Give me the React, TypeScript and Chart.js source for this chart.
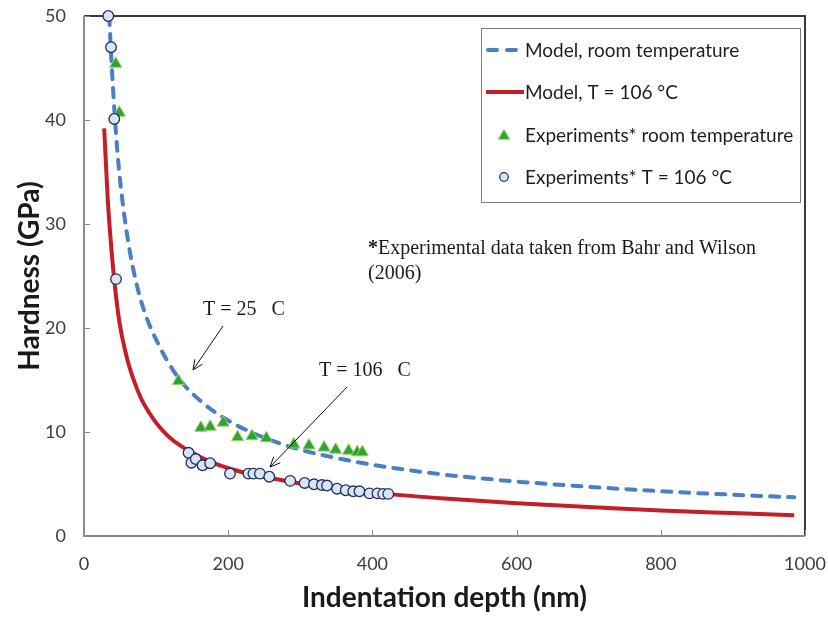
import React, { useEffect, useRef } from 'react';
import { Chart, registerables } from 'chart.js';

Chart.register(...registerables);

// ---- data ----
const modelRoomDepth = [35, 38, 42.5, 47, 53, 64, 80, 105, 131, 163, 200, 250, 300, 350, 400, 500, 600, 700, 800, 900, 985];
const modelRoomHard = [50, 45.8, 40.6, 36.4, 32.4, 27.2, 22.4, 18.2, 15.2, 12.9, 11.1, 9.45, 8.3, 7.5, 6.85, 5.9, 5.24, 4.73, 4.3, 3.97, 3.72];

const model106Depth = [28, 33, 40, 45, 50, 60, 70, 80, 90, 100, 120, 150, 180, 216, 260, 300, 350, 420, 500, 600, 700, 800, 900, 985];
const model106Hard = [39.2, 32.3, 26, 22.7, 20.2, 17.0, 14.8, 13.1, 11.9, 10.9, 9.4, 8.0, 7.0, 6.2, 5.55, 5.05, 4.6, 4.05, 3.6, 3.15, 2.8, 2.45, 2.2, 2.0];

const expRoomDepth = [44, 49, 131, 162, 175, 193, 213, 233, 253, 291, 312, 333, 349, 367, 379, 386];
const expRoomHard = [45.4, 40.7, 14.9, 10.4, 10.5, 10.9, 9.5, 9.6, 9.4, 8.8, 8.7, 8.5, 8.3, 8.2, 8.05, 8.05];

const exp106Depth = [33.7, 37.5, 42, 44.4, 145, 149, 155, 164.5, 175, 202.5, 228, 235, 244, 257, 286, 306, 319, 330, 337, 351, 363, 373.5, 382, 396, 407, 415, 422];
const exp106Hard = [50, 47, 40.1, 24.7, 8.0, 7.05, 7.4, 6.8, 7.0, 6.0, 6.0, 6.0, 6.0, 5.7, 5.3, 5.1, 4.97, 4.9, 4.85, 4.55, 4.4, 4.3, 4.3, 4.1, 4.1, 4.05, 4.05];

const xTicks = [0, 200, 400, 600, 800, 1000];
const yTicks = [0, 10, 20, 30, 40, 50];

const seriesNames = [
  'Model, room temperature',
  'Model, T = 106 °C',
  'Experiments* room temperature',
  'Experiments* T = 106 °C',
];
const xTitle = 'Indentation depth (nm)';
const yTitle = 'Hardness (GPa)';
const noteLine1Star = '*';
const noteLine1 = 'Experimental data taken from Bahr and Wilson';
const noteLine2 = '(2006)';
const label25 = 'T = 25   C';
const label106 = 'T = 106   C';

const BLUE = '#4a7fc1';
const RED = '#c41e2a';
const GREEN = '#2ea33a';
const GREEN_EDGE = '#9fcf5a';
const CIRCLE_FILL = '#dbe5f1';
const CIRCLE_EDGE = '#1f2f63';

const pts = (xs: number[], ys: number[]) => xs.map((x, i) => ({ x, y: ys[i] }));

function drawArrow(ctx: CanvasRenderingContext2D, x1: number, y1: number, x2: number, y2: number) {
  ctx.save();
  ctx.strokeStyle = '#111';
  ctx.lineWidth = 1;
  ctx.setLineDash([]);
  ctx.beginPath();
  ctx.moveTo(x1, y1);
  ctx.lineTo(x2, y2);
  const a = Math.atan2(y2 - y1, x2 - x1);
  const L = 11;
  const s = 0.42;
  ctx.moveTo(x2 - L * Math.cos(a - s), y2 - L * Math.sin(a - s));
  ctx.lineTo(x2, y2);
  ctx.lineTo(x2 - L * Math.cos(a + s), y2 - L * Math.sin(a + s));
  ctx.stroke();
  ctx.restore();
}

function triangle(ctx: CanvasRenderingContext2D, x: number, y: number, r: number) {
  ctx.beginPath();
  for (let k = 0; k < 3; k++) {
    const ang = k * (2 * Math.PI / 3);
    const px = x + Math.sin(ang) * r;
    const py = y - Math.cos(ang) * r;
    if (k === 0) ctx.moveTo(px, py); else ctx.lineTo(px, py);
  }
  ctx.closePath();
}

const framePlugin = {
  id: 'frame',
  beforeDatasetsDraw(chart: any) {
    const ctx = chart.ctx as CanvasRenderingContext2D;
    const { left, right, top, bottom } = chart.chartArea;
    ctx.save();
    ctx.strokeStyle = '#3a3a3a';
    ctx.lineWidth = 2;
    ctx.beginPath();
    ctx.moveTo(left, top);
    ctx.lineTo(right, top);
    ctx.lineTo(right, bottom);
    ctx.stroke();
    ctx.strokeStyle = '#8a8a8a';
    ctx.beginPath();
    ctx.moveTo(left, top);
    ctx.lineTo(left, bottom);
    ctx.lineTo(right, bottom);
    ctx.stroke();
    ctx.lineWidth = 1;
    const xs = chart.scales.x;
    const ys = chart.scales.y;
    ctx.beginPath();
    xTicks.forEach((v) => {
      const px = Math.round(xs.getPixelForValue(v)) + 0.5;
      ctx.moveTo(px, bottom);
      ctx.lineTo(px, bottom - 6);
    });
    yTicks.forEach((v) => {
      const py = Math.round(ys.getPixelForValue(v)) + 0.5;
      ctx.moveTo(left, py);
      ctx.lineTo(left + 6, py);
    });
    ctx.stroke();
    ctx.restore();
  },
  afterDraw(chart: any) {
    const ctx = chart.ctx as CanvasRenderingContext2D;
    ctx.save();
    // legend box
    const bx = 481, by = 28, bw = 319, bh = 174;
    ctx.fillStyle = '#ffffff';
    ctx.fillRect(bx, by, bw, bh);
    ctx.strokeStyle = '#7f7f7f';
    ctx.lineWidth = 1;
    ctx.strokeRect(bx + 0.5, by + 0.5, bw, bh);
    const rows = [50, 92, 135, 177];
    ctx.font = '19px Lato';
    ctx.textBaseline = 'middle';
    ctx.textAlign = 'left';
    ctx.strokeStyle = BLUE;
    ctx.lineWidth = 4;
    ctx.lineCap = 'round';
    ctx.setLineDash([9, 10]);
    ctx.beginPath();
    ctx.moveTo(488, rows[0]);
    ctx.lineTo(522, rows[0]);
    ctx.stroke();
    ctx.setLineDash([]);
    ctx.strokeStyle = RED;
    ctx.lineCap = 'butt';
    ctx.beginPath();
    ctx.moveTo(486, rows[1]);
    ctx.lineTo(524, rows[1]);
    ctx.stroke();
    ctx.fillStyle = GREEN;
    ctx.strokeStyle = GREEN_EDGE;
    ctx.lineWidth = 1;
    triangle(ctx, 504, rows[2] + 1, 6.5);
    ctx.fill();
    ctx.stroke();
    ctx.fillStyle = CIRCLE_FILL;
    ctx.strokeStyle = CIRCLE_EDGE;
    ctx.lineWidth = 1.2;
    ctx.beginPath();
    ctx.arc(504, rows[3], 4.3, 0, Math.PI * 2);
    ctx.fill();
    ctx.stroke();
    ctx.fillStyle = '#1e1e1e';
    seriesNames.forEach((n, i) => ctx.fillText(n, 525, rows[i] + 1));

    // note text
    ctx.textBaseline = 'alphabetic';
    ctx.font = 'bold 20px "Liberation Serif"';
    ctx.fillStyle = '#1a1a1a';
    ctx.fillText(noteLine1Star, 368, 254);
    const sw = ctx.measureText(noteLine1Star).width;
    ctx.font = '20px "Liberation Serif"';
    ctx.fillText(noteLine1, 368 + sw, 254);
    ctx.fillText(noteLine2, 368, 279);

    ctx.font = '20px "Liberation Serif"';
    ctx.fillText(label25, 203, 315);
    ctx.fillText(label106, 319, 376);
    ctx.restore();

    drawArrow(ctx, 223, 326, 193, 370);
    drawArrow(ctx, 347, 387, 270, 467);
  },
};

export default function App() {
  const ref = useRef<HTMLCanvasElement | null>(null);
  useEffect(() => {
    document.body.style.margin = '0';
    const canvas = ref.current;
    if (!canvas) return;
    const chart = new Chart(canvas, {
      type: 'scatter',
      data: {
        datasets: [
          {
            type: 'line',
            label: seriesNames[0],
            data: pts(modelRoomDepth, modelRoomHard),
            borderColor: BLUE,
            borderWidth: 4,
            borderDash: [9, 9],
            borderCapStyle: 'round',
            pointRadius: 0,
            fill: false,
            cubicInterpolationMode: 'monotone',
            order: 4,
          } as any,
          {
            type: 'line',
            label: seriesNames[1],
            data: pts(model106Depth, model106Hard),
            borderColor: RED,
            borderWidth: 4,
            pointRadius: 0,
            fill: false,
            cubicInterpolationMode: 'monotone',
            order: 3,
          } as any,
          {
            label: seriesNames[2],
            data: pts(expRoomDepth, expRoomHard),
            pointStyle: 'triangle',
            pointRadius: 7,
            backgroundColor: GREEN,
            borderColor: GREEN_EDGE,
            borderWidth: 1,
            order: 2,
            clip: false,
          } as any,
          {
            label: seriesNames[3],
            data: pts(exp106Depth, exp106Hard),
            pointStyle: 'circle',
            pointRadius: 5.3,
            backgroundColor: CIRCLE_FILL,
            borderColor: CIRCLE_EDGE,
            borderWidth: 1.3,
            order: 1,
            clip: false,
          } as any,
        ],
      },
      options: {
        responsive: false,
        animation: false,
        devicePixelRatio: 1,
        layout: { padding: { top: 16, right: 23, left: 0, bottom: 0 } },
        plugins: { legend: { display: false }, tooltip: { enabled: false } },
        scales: {
          x: {
            type: 'linear',
            min: 0,
            max: 1000,
            afterBuildTicks: (s: any) => { s.ticks = xTicks.map((v) => ({ value: v })); },
            afterFit: (s: any) => { s.height = 82; s.paddingLeft = 0; s.paddingRight = 0; },
            grid: { display: false },
            border: { display: false },
            ticks: {
              color: '#3c3c3c',
              font: { family: 'Lato', size: 18 },
              padding: 9,
              maxRotation: 0,
              callback: (v: any) => String(v),
            },
            title: {
              display: true,
              text: xTitle,
              color: '#1a1a1a',
              font: { family: 'Lato', size: 28, weight: 'bold' },
              padding: { top: 0, bottom: 3 },
            },
          },
          y: {
            type: 'linear',
            min: 0,
            max: 50,
            afterBuildTicks: (s: any) => { s.ticks = yTicks.map((v) => ({ value: v })); },
            afterFit: (s: any) => { s.width = 84; s.paddingTop = 0; s.paddingBottom = 0; },
            grid: { display: false },
            border: { display: false },
            ticks: {
              color: '#3c3c3c',
              font: { family: 'Lato', size: 18 },
              padding: 10,
              callback: (v: any) => String(v),
            },
            title: {
              display: true,
              text: yTitle,
              color: '#1a1a1a',
              font: { family: 'Lato', size: 28, weight: 'bold' },
              padding: { top: 13, bottom: 0 },
            },
          },
        },
      } as any,
      plugins: [framePlugin],
    });
    return () => chart.destroy();
  }, []);
  return <canvas ref={ref} width={828} height={618} style={{ display: 'block', width: 828, height: 618 }} />;
}
